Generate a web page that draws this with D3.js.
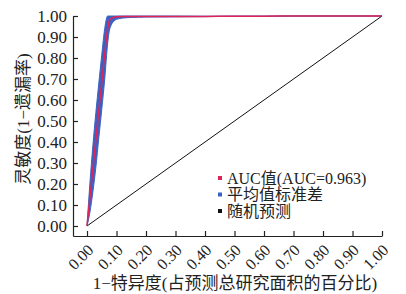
<!DOCTYPE html>
<html>
<head>
<meta charset="utf-8">
<script src="https://cdn.jsdelivr.net/npm/d3@7"></script>
<style>
  body { margin: 0; background: #fff; }
  svg text { font-family: "Liberation Serif", "Noto Sans CJK SC", serif; fill: #222; }
  .axis path, .axis line { stroke: #222; stroke-width: 1.2; }
</style>
</head>
<body>
<div id="chart"></div>
<script>
// ROC data
const fpr     = [0, 0.01, 0.02, 0.03, 0.04, 0.05, 0.06, 0.07, 0.075, 0.08, 0.09, 0.10, 0.12, 0.15, 0.20, 0.30, 0.40, 0.50, 0.60, 0.70, 0.80, 0.90, 1.00]
const tprMean = [0, 0.137, 0.274, 0.41, 0.55, 0.685, 0.82, 0.94, 0.975, 0.985, 0.994, 0.996, 0.998, 0.998, 0.998, 0.998, 0.998, 0.999, 0.999, 1, 1, 1, 1]
const tprStd  = [0, 0.07, 0.11, 0.13, 0.13, 0.13, 0.12, 0.07, 0.05, 0.035, 0.02, 0.012, 0.008, 0.005, 0.003, 0.002, 0.001, 0, 0, 0, 0, 0, 0]
const randomLine = [0, 1]

const tickVals = [0, 0.1, 0.2, 0.3, 0.4, 0.5, 0.6, 0.7, 0.8, 0.9, 1.0]
const legendLabels = ['AUC值(AUC=0.963)', '平均值标准差', '随机预测']
const legendColors = ['#e0245a', '#3a62c2', '#111']
const xTitle = '1−特异度(占预测总研究面积的百分比)'
const yTitle = '灵敏度(1−遗漏率)'

const width = 406
const height = 294

const svg = d3.select('#chart')
  .append('svg')
  .attr('width', width)
  .attr('height', height)

// scales: domain starts a bit below zero so the axes sit offset from 0
const x = d3.scaleLinear().domain([-0.0475, 1]).range([73, 382])
const y = d3.scaleLinear().domain([-0.0476, 1]).range([236, 16])

const data = fpr.map((f, i) => ({
  f,
  m: tprMean[i],
  lo: Math.max(0, tprMean[i] - tprStd[i]),
  hi: Math.min(1, tprMean[i] + tprStd[i])
}))

// std band
const band = d3.area()
  .x(d => x(d.f))
  .y0(d => y(d.lo))
  .y1(d => y(d.hi))
  .curve(d3.curveMonotoneX)

svg.append('path')
  .datum(data)
  .attr('fill', legendColors[1])
  .attr('stroke', legendColors[1])
  .attr('stroke-width', 1)
  .attr('stroke-linejoin', 'round')
  .attr('d', band)

// random prediction
svg.append('path')
  .datum(randomLine)
  .attr('fill', 'none')
  .attr('stroke', legendColors[2])
  .attr('stroke-width', 1)
  .attr('d', d3.line().x(d => x(d)).y(d => y(d)))

// mean ROC
svg.append('path')
  .datum(data)
  .attr('fill', 'none')
  .attr('stroke', legendColors[0])
  .attr('stroke-width', 1.5)
  .attr('d', d3.line().x(d => x(d.f)).y(d => y(d.m)).curve(d3.curveMonotoneX))

// left axis
svg.append('g')
  .attr('class', 'axis')
  .attr('transform', `translate(${x.range()[0]},0)`)
  .call(d3.axisLeft(y).tickValues(tickVals).tickSize(-5).tickSizeOuter(0).tickPadding(6).tickFormat(d3.format('.2f')))
  .call(g => g.selectAll('text').style('font-size', '17px').attr('dy', '0.35em'))

// bottom axis
svg.append('g')
  .attr('class', 'axis')
  .attr('transform', `translate(0,${y.range()[0]})`)
  .call(d3.axisBottom(x).tickValues(tickVals).tickSize(-5).tickSizeOuter(0).tickFormat(d3.format('.2f')))
  .call(g => g.selectAll('text')
    .style('font-size', '16px')
    .attr('text-anchor', 'end')
    .attr('y', 0)
    .attr('dy', 0)
    .attr('transform', 'translate(7,15) rotate(-45)'))

// axis titles
svg.append('text')
  .attr('x', 235)
  .attr('y', 289)
  .attr('text-anchor', 'middle')
  .style('font-size', '17px')
  .text(xTitle)

svg.append('text')
  .attr('transform', 'translate(29,119) rotate(-90)')
  .attr('text-anchor', 'middle')
  .style('font-size', '17px')
  .text(yTitle)

// legend
const legend = svg.append('g').attr('transform', 'translate(218,178)')
legendLabels.forEach((lab, i) => {
  const row = legend.append('g').attr('transform', `translate(0,${i * 16.5})`)
  row.append('rect')
    .attr('x', 0).attr('y', -2)
    .attr('width', 4).attr('height', 4)
    .attr('fill', legendColors[i])
  row.append('text')
    .attr('x', 9).attr('dy', '0.35em')
    .style('font-size', '16px')
    .text(lab)
})
</script>
</body>
</html>
